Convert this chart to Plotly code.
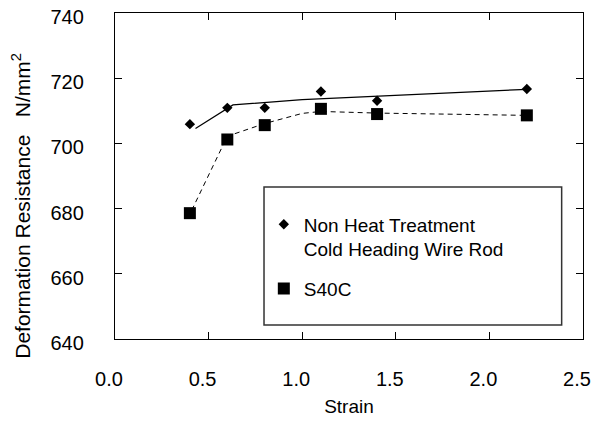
import plotly.graph_objects as go

# measured points
strain = [0.4, 0.6, 0.8, 1.1, 1.4, 2.2]
nht = [705.9, 710.9, 710.9, 715.9, 713.1, 716.7]
s40c = [678.6, 701.2, 705.6, 710.6, 709.0, 708.6]

# fitted curves
fit_nht_x = [0.43, 0.63, 0.7, 0.8, 1.0, 2.2]
fit_nht_y = [704.6, 711.8, 712.1, 712.6, 713.4, 716.6]
fit_s40c_x = [0.41, 0.6, 0.8, 1.0, 1.1, 1.4, 2.2]
fit_s40c_y = [679.5, 702.2, 706.1, 709.2, 709.8, 709.3, 708.6]

x_ticks = [0.0, 0.5, 1.0, 1.5, 2.0, 2.5]
y_ticks = [640, 660, 680, 700, 720, 740]

font = "Liberation Sans, Arial, sans-serif"

fig = go.Figure()
fig.add_trace(go.Scatter(x=fit_nht_x, y=fit_nht_y, mode="lines",
                         line=dict(color="black", width=1.2), showlegend=False))
fig.add_trace(go.Scatter(x=fit_s40c_x, y=fit_s40c_y, mode="lines",
                         line=dict(color="black", width=1, dash="5px,4px"), showlegend=False))
fig.add_trace(go.Scatter(x=strain, y=nht, mode="markers", name="Non Heat Treatment<br>Cold Heading Wire Rod",
                         legendgroup="a",
                         marker=dict(symbol="diamond", size=8, color="black")))
fig.add_trace(go.Scatter(x=strain, y=s40c, mode="markers", name="S40C", legendgroup="b",
                         marker=dict(symbol="square", size=12, color="black")))

axis = dict(showline=True, linecolor="black", linewidth=1.3, mirror="ticks",
            ticks="inside", ticklen=7, tickcolor="black", showgrid=False, zeroline=False,
            automargin=False, ticklabeloverflow="allow",
            tickfont=dict(family=font, size=20, color="black"))

fig.update_xaxes(range=[0, 2.5], tickvals=x_ticks, ticktext=[f"{v:.1f}" for v in x_ticks],
                 ticklabelstandoff=22, ticklabelshift=-6,
                 title=dict(text="Strain", font=dict(family=font, size=19, color="black"), standoff=10),
                 **axis)
# labels nudged down a little so the top one stays inside the page
fig.update_yaxes(range=[640, 740], tickvals=y_ticks, ticklabelstandoff=26, ticklabelshift=4, **axis)

# y title as rotated text
fig.add_annotation(text="Deformation Resistance\u00a0\u00a0\u00a0N/mm<sup>2</sup>",
                   xref="paper", yref="paper", x=-0.2, y=0.41, textangle=-90,
                   showarrow=False, xanchor="center", yanchor="middle",
                   font=dict(family=font, size=21, color="black"))

# legend frame
fig.add_shape(type="rect", xref="x", yref="y", x0=0.796, x1=2.386, y0=644.3, y1=686.6,
              line=dict(color="#333", width=1.5), fillcolor="rgba(0,0,0,0)")

# page body has an 8px margin, so the figure is a bit smaller than the window
fig.update_layout(
    width=595, height=413,
    margin=dict(l=107, r=20, t=5, b=82),
    plot_bgcolor="white", paper_bgcolor="white",
    font=dict(family=font, size=19, color="black"),
    legend=dict(x=0.318, y=0.41, xanchor="left", yanchor="top",
                bgcolor="rgba(0,0,0,0)", borderwidth=0, valign="top",
                traceorder="grouped", tracegroupgap=12,
                font=dict(family=font, size=19, color="black")),
)

fig.write_html("out.html")
